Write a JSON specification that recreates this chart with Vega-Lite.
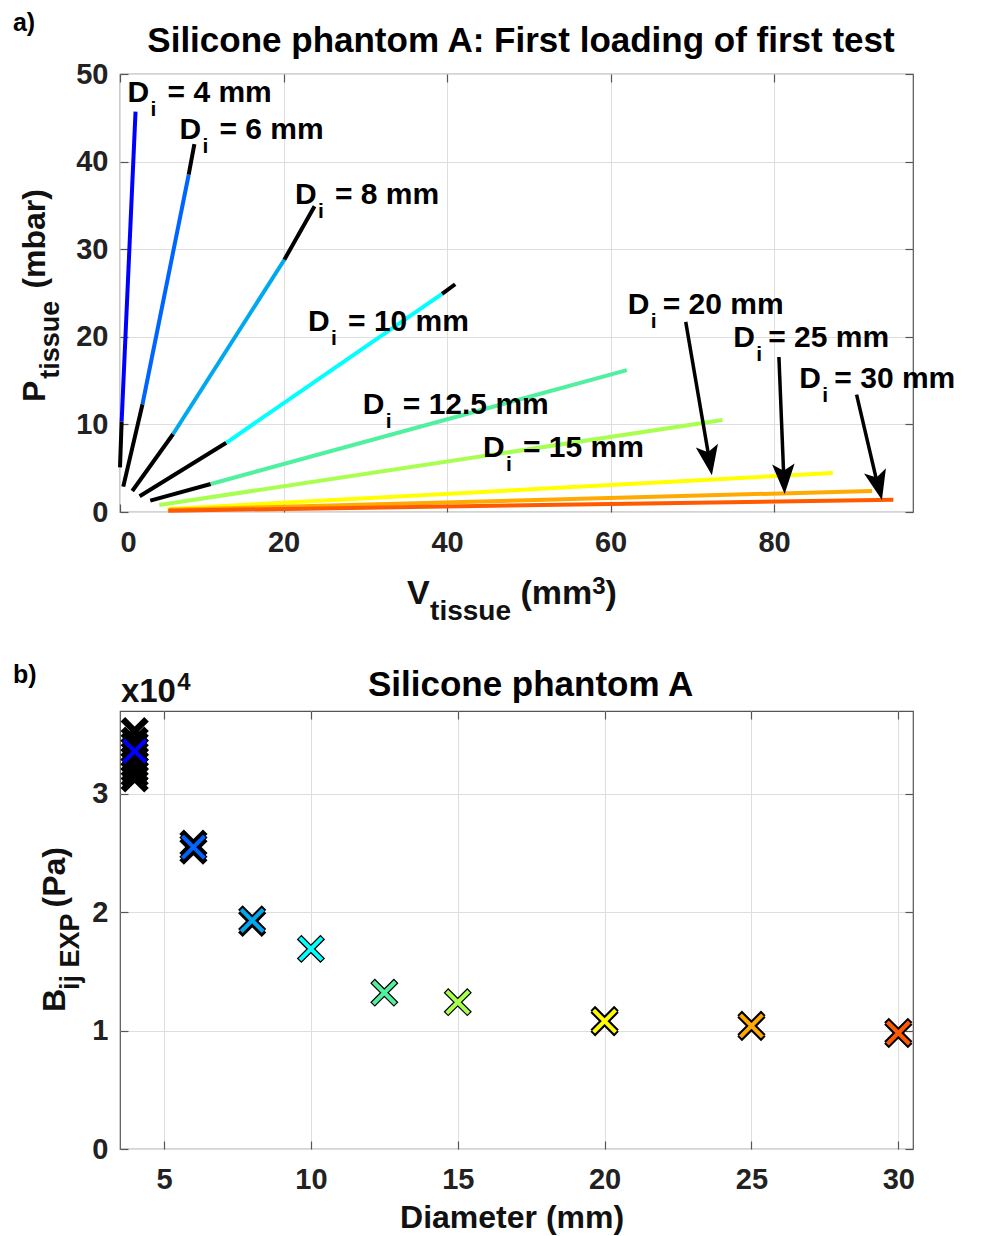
{
  "$schema": "https://vega.github.io/schema/vega-lite/v6.json",
  "background": "white",
  "padding": {"left": 12, "top": 10, "right": 5, "bottom": 2},
  "bounds": "flush",
  "spacing": 199,
  "config": {
    "view": {"stroke": "#555555", "strokeWidth": 1.2},
    "font": "Liberation Sans",
    "axis": {"labelFont": "Liberation Sans", "labelFontSize": 29, "labelFontWeight": "bold", "labelColor": "#222222", "domain": false, "gridColor": "#dedede", "gridWidth": 1, "tickColor": "#555555", "tickSize": -8, "tickWidth": 1.2, "labelPadding": 20},
    "text": {"font": "Liberation Sans", "fontWeight": "bold", "color": "#111111"}
  },
  "datasets": {
    "lines": [
      {"seg": "4a", "c": "k", "x": 0.0, "y": 5.1},
      {"seg": "4a", "c": "k", "x": 0.2, "y": 10.3},
      {"seg": "4b", "c": "4", "x": 0.2, "y": 10.3},
      {"seg": "4b", "c": "4", "x": 1.9, "y": 45.7},
      {"seg": "6a", "c": "k", "x": 0.4, "y": 2.9},
      {"seg": "6a", "c": "k", "x": 2.75, "y": 12.3},
      {"seg": "6b", "c": "6", "x": 2.75, "y": 12.3},
      {"seg": "6b", "c": "6", "x": 8.4, "y": 38.5},
      {"seg": "6c", "c": "k", "x": 8.4, "y": 38.5},
      {"seg": "6c", "c": "k", "x": 9.1, "y": 42.0},
      {"seg": "8a", "c": "k", "x": 1.5, "y": 2.4},
      {"seg": "8a", "c": "k", "x": 6.5, "y": 8.9},
      {"seg": "8b", "c": "8", "x": 6.5, "y": 8.9},
      {"seg": "8b", "c": "8", "x": 20.1, "y": 28.8},
      {"seg": "8c", "c": "k", "x": 20.1, "y": 28.8},
      {"seg": "8c", "c": "k", "x": 23.8, "y": 34.9},
      {"seg": "10a", "c": "k", "x": 2.4, "y": 1.8},
      {"seg": "10a", "c": "k", "x": 13.0, "y": 7.9},
      {"seg": "10b", "c": "10", "x": 13.0, "y": 7.9},
      {"seg": "10b", "c": "10", "x": 39.4, "y": 24.9},
      {"seg": "10c", "c": "k", "x": 39.4, "y": 24.9},
      {"seg": "10c", "c": "k", "x": 41.0, "y": 26.0},
      {"seg": "12a", "c": "k", "x": 3.7, "y": 1.3},
      {"seg": "12a", "c": "k", "x": 11.1, "y": 3.2},
      {"seg": "12b", "c": "12.5", "x": 11.1, "y": 3.2},
      {"seg": "12b", "c": "12.5", "x": 62.0, "y": 16.2},
      {"seg": "15", "c": "15", "x": 4.8, "y": 0.8},
      {"seg": "15", "c": "15", "x": 73.7, "y": 10.5},
      {"seg": "20", "c": "20", "x": 5.8, "y": 0.35},
      {"seg": "20", "c": "20", "x": 87.2, "y": 4.45},
      {"seg": "25", "c": "25", "x": 6.0, "y": 0.25},
      {"seg": "25", "c": "25", "x": 92.0, "y": 2.4},
      {"seg": "30", "c": "30", "x": 5.9, "y": 0.15},
      {"seg": "30", "c": "30", "x": 94.6, "y": 1.4}
    ],
    "labels": [
      {"n": "4", "x": 0.92, "y": 46.8, "t": "= 4 mm"},
      {"n": "6", "x": 7.27, "y": 42.6, "t": "= 6 mm"},
      {"n": "8", "x": 21.4, "y": 35.2, "t": "= 8 mm"},
      {"n": "10", "x": 23.0, "y": 20.7, "t": "= 10 mm"},
      {"n": "12.5", "x": 29.7, "y": 11.2, "t": "= 12.5 mm"},
      {"n": "15", "x": 44.4, "y": 6.3, "t": "= 15 mm"},
      {"n": "20", "x": 62.1, "y": 22.6, "t": "= 20 mm"},
      {"n": "25", "x": 75.0, "y": 18.8, "t": "= 25 mm"},
      {"n": "30", "x": 83.1, "y": 14.2, "t": "= 30 mm"}
    ],
    "arrows": [
      {"a": "20", "x": 69.2, "y": 21.7, "x2": 72.1, "y2": 5.9, "tx": 72.4, "ty": 4.2},
      {"a": "25", "x": 80.6, "y": 17.7, "x2": 81.2, "y2": 3.8, "tx": 81.3, "ty": 2.05},
      {"a": "30", "x": 90.1, "y": 13.4, "x2": 92.7, "y2": 3.0, "tx": 93.2, "ty": 1.37}
    ],
    "tests": [
      {"d": 4, "b": 31300}, {"d": 4, "b": 31700}, {"d": 4, "b": 32100}, {"d": 4, "b": 32500},
      {"d": 4, "b": 32900}, {"d": 4, "b": 33300}, {"d": 4, "b": 33700}, {"d": 4, "b": 34100},
      {"d": 4, "b": 34500}, {"d": 4, "b": 35300},
      {"d": 6, "b": 25200}, {"d": 6, "b": 25500}, {"d": 6, "b": 25800},
      {"d": 8, "b": 19100}, {"d": 8, "b": 19400},
      {"d": 10, "b": 16900},
      {"d": 12.5, "b": 13200},
      {"d": 15, "b": 12400},
      {"d": 20, "b": 10700}, {"d": 20, "b": 10900},
      {"d": 25, "b": 10300}, {"d": 25, "b": 10500},
      {"d": 30, "b": 9700}, {"d": 30, "b": 9900}
    ],
    "means": [
      {"d": 4, "b": 33600, "c": "4"},
      {"d": 6, "b": 25500, "c": "6"},
      {"d": 8, "b": 19300, "c": "8"},
      {"d": 10, "b": 16900, "c": "10"},
      {"d": 12.5, "b": 13200, "c": "12.5"},
      {"d": 15, "b": 12400, "c": "15"},
      {"d": 20, "b": 10800, "c": "20"},
      {"d": 25, "b": 10400, "c": "25"},
      {"d": 30, "b": 9800, "c": "30"}
    ]
  },
  "vconcat": [
    {
      "width": 793,
      "height": 438,
      "resolve": {"axis": {"x": "independent", "y": "independent"}},
      "layer": [
        {
          "data": {"name": "lines"},
          "mark": {"type": "line", "strokeWidth": 4, "strokeCap": "butt"},
          "encoding": {
            "x": {"field": "x", "type": "quantitative", "scale": {"domain": [0, 97], "nice": false, "zero": false}, "axis": {"values": [0, 20, 40, 60, 80], "grid": true, "labelPadding": 24, "title": null}},
            "y": {"field": "y", "type": "quantitative", "scale": {"domain": [0, 50], "nice": false}, "axis": {"values": [0, 10, 20, 30, 40, 50], "grid": true, "title": null}},
            "detail": {"field": "seg"},
            "color": {"field": "c", "type": "nominal", "legend": null,
              "scale": {"domain": ["k", "4", "6", "8", "10", "12.5", "15", "20", "25", "30"],
                        "range": ["#000000", "#0000ff", "#0064ff", "#00a8f0", "#00ffff", "#50f0a0", "#a8ff50", "#ffff00", "#ffaa00", "#ff5a00"]}}
          }
        },
        {
          "data": {"name": "arrows"},
          "mark": {"type": "rule", "strokeWidth": 3.5, "color": "#000000"},
          "encoding": {
            "x": {"field": "x", "type": "quantitative", "scale": {"domain": [0, 97], "nice": false, "zero": false}, "axis": {"orient": "top", "labels": false, "grid": false, "values": [0, 20, 40, 60, 80], "title": null}},
            "y": {"field": "y", "type": "quantitative", "scale": {"domain": [0, 50], "nice": false}, "axis": {"orient": "right", "labels": false, "grid": false, "values": [0, 10, 20, 30, 40, 50], "title": null}},
            "x2": {"field": "x2"},
            "y2": {"field": "y2"}
          }
        },
        {
          "data": {"name": "arrows"},
          "transform": [{"filter": "datum.a == '20'"}],
          "mark": {"type": "point", "shape": "M0,0L-0.75,-2L0,-1.55L0.75,-2Z", "filled": true, "size": 900, "color": "#000000", "opacity": 1, "angle": 350.4},
          "encoding": {
            "x": {"field": "tx", "type": "quantitative", "scale": {"domain": [0, 97], "nice": false, "zero": false}, "axis": null},
            "y": {"field": "ty", "type": "quantitative", "scale": {"domain": [0, 50], "nice": false}, "axis": null}
          }
        },
        {
          "data": {"name": "arrows"},
          "transform": [{"filter": "datum.a == '25'"}],
          "mark": {"type": "point", "shape": "M0,0L-0.75,-2L0,-1.55L0.75,-2Z", "filled": true, "size": 900, "color": "#000000", "opacity": 1, "angle": 357.5},
          "encoding": {
            "x": {"field": "tx", "type": "quantitative", "scale": {"domain": [0, 97], "nice": false, "zero": false}, "axis": null},
            "y": {"field": "ty", "type": "quantitative", "scale": {"domain": [0, 50], "nice": false}, "axis": null}
          }
        },
        {
          "data": {"name": "arrows"},
          "transform": [{"filter": "datum.a == '30'"}],
          "mark": {"type": "point", "shape": "M0,0L-0.75,-2L0,-1.55L0.75,-2Z", "filled": true, "size": 900, "color": "#000000", "opacity": 1, "angle": 346.6},
          "encoding": {
            "x": {"field": "tx", "type": "quantitative", "scale": {"domain": [0, 97], "nice": false, "zero": false}, "axis": null},
            "y": {"field": "ty", "type": "quantitative", "scale": {"domain": [0, 50], "nice": false}, "axis": null}
          }
        },
        {
          "data": {"name": "labels"},
          "mark": {"type": "text", "text": "D", "fontSize": 30, "align": "left", "baseline": "alphabetic", "color": "#000000"},
          "encoding": {
            "x": {"field": "x", "type": "quantitative", "scale": {"domain": [0, 97], "nice": false, "zero": false}, "axis": null},
            "y": {"field": "y", "type": "quantitative", "scale": {"domain": [0, 50], "nice": false}, "axis": null}
          }
        },
        {
          "data": {"name": "labels"},
          "mark": {"type": "text", "text": "i", "fontSize": 21, "align": "left", "baseline": "alphabetic", "dx": 23, "dy": 14, "color": "#000000"},
          "encoding": {
            "x": {"field": "x", "type": "quantitative", "scale": {"domain": [0, 97], "nice": false, "zero": false}, "axis": null},
            "y": {"field": "y", "type": "quantitative", "scale": {"domain": [0, 50], "nice": false}, "axis": null}
          }
        },
        {
          "data": {"name": "labels"},
          "transform": [{"filter": {"field": "n", "oneOf": ["4", "6", "8", "10", "12.5", "15"]}}],
          "mark": {"type": "text", "fontSize": 30, "align": "left", "baseline": "alphabetic", "dx": 40, "color": "#000000"},
          "encoding": {
            "x": {"field": "x", "type": "quantitative", "scale": {"domain": [0, 97], "nice": false, "zero": false}, "axis": null},
            "y": {"field": "y", "type": "quantitative", "scale": {"domain": [0, 50], "nice": false}, "axis": null},
            "text": {"field": "t"}
          }
        },
        {
          "data": {"name": "labels"},
          "transform": [{"filter": {"field": "n", "oneOf": ["20", "25", "30"]}}],
          "mark": {"type": "text", "fontSize": 30, "align": "left", "baseline": "alphabetic", "dx": 35, "color": "#000000"},
          "encoding": {
            "x": {"field": "x", "type": "quantitative", "scale": {"domain": [0, 97], "nice": false, "zero": false}, "axis": null},
            "y": {"field": "y", "type": "quantitative", "scale": {"domain": [0, 50], "nice": false}, "axis": null},
            "text": {"field": "t"}
          }
        },
        {
          "data": {"values": [{}]},
          "mark": {"type": "text", "text": "Silicone phantom A: First loading of first test", "fontSize": 35, "align": "center", "baseline": "alphabetic", "color": "#000000"},
          "encoding": {
            "x": {"datum": 49.05, "type": "quantitative", "scale": {"domain": [0, 97], "nice": false, "zero": false}, "axis": null},
            "y": {"datum": 52.5, "type": "quantitative", "scale": {"domain": [0, 50], "nice": false}, "axis": null}
          }
        },
        {
          "data": {"values": [{}]},
          "mark": {"type": "text", "text": "a)", "fontSize": 25, "align": "left", "baseline": "alphabetic", "color": "#000000"},
          "encoding": {
            "x": {"datum": -13.1, "type": "quantitative", "scale": {"domain": [0, 97], "nice": false, "zero": false}, "axis": null},
            "y": {"datum": 54.9, "type": "quantitative", "scale": {"domain": [0, 50], "nice": false}, "axis": null}
          }
        },
        {
          "data": {"values": [{}]},
          "mark": {"type": "text", "text": "V", "fontSize": 34, "align": "left", "baseline": "alphabetic"},
          "encoding": {
            "x": {"datum": 35.12, "type": "quantitative", "scale": {"domain": [0, 97], "nice": false, "zero": false}, "axis": null},
            "y": {"datum": -10.5, "type": "quantitative", "scale": {"domain": [0, 50], "nice": false}, "axis": null}
          }
        },
        {
          "data": {"values": [{}]},
          "mark": {"type": "text", "text": "tissue", "fontSize": 28, "align": "left", "baseline": "alphabetic"},
          "encoding": {
            "x": {"datum": 37.93, "type": "quantitative", "scale": {"domain": [0, 97], "nice": false, "zero": false}, "axis": null},
            "y": {"datum": -12.33, "type": "quantitative", "scale": {"domain": [0, 50], "nice": false}, "axis": null}
          }
        },
        {
          "data": {"values": [{}]},
          "mark": {"type": "text", "text": "(mm", "fontSize": 34, "align": "left", "baseline": "alphabetic"},
          "encoding": {
            "x": {"datum": 48.99, "type": "quantitative", "scale": {"domain": [0, 97], "nice": false, "zero": false}, "axis": null},
            "y": {"datum": -10.5, "type": "quantitative", "scale": {"domain": [0, 50], "nice": false}, "axis": null}
          }
        },
        {
          "data": {"values": [{}]},
          "mark": {"type": "text", "text": "3", "fontSize": 24, "align": "left", "baseline": "alphabetic"},
          "encoding": {
            "x": {"datum": 57.76, "type": "quantitative", "scale": {"domain": [0, 97], "nice": false, "zero": false}, "axis": null},
            "y": {"datum": -9.36, "type": "quantitative", "scale": {"domain": [0, 50], "nice": false}, "axis": null}
          }
        },
        {
          "data": {"values": [{}]},
          "mark": {"type": "text", "text": ")", "fontSize": 34, "align": "left", "baseline": "alphabetic"},
          "encoding": {
            "x": {"datum": 59.39, "type": "quantitative", "scale": {"domain": [0, 97], "nice": false, "zero": false}, "axis": null},
            "y": {"datum": -10.5, "type": "quantitative", "scale": {"domain": [0, 50], "nice": false}, "axis": null}
          }
        },
        {
          "data": {"values": [{}]},
          "mark": {"type": "text", "text": "P", "fontSize": 32, "align": "left", "baseline": "alphabetic", "angle": 270},
          "encoding": {
            "x": {"datum": -9.22, "type": "quantitative", "scale": {"domain": [0, 97], "nice": false, "zero": false}, "axis": null},
            "y": {"datum": 12.56, "type": "quantitative", "scale": {"domain": [0, 50], "nice": false}, "axis": null}
          }
        },
        {
          "data": {"values": [{}]},
          "mark": {"type": "text", "text": "tissue", "fontSize": 27, "align": "left", "baseline": "alphabetic", "angle": 270},
          "encoding": {
            "x": {"datum": -7.51, "type": "quantitative", "scale": {"domain": [0, 97], "nice": false, "zero": false}, "axis": null},
            "y": {"datum": 15.2, "type": "quantitative", "scale": {"domain": [0, 50], "nice": false}, "axis": null}
          }
        },
        {
          "data": {"values": [{}]},
          "mark": {"type": "text", "text": "(mbar)", "fontSize": 32, "align": "left", "baseline": "alphabetic", "angle": 270},
          "encoding": {
            "x": {"datum": -9.22, "type": "quantitative", "scale": {"domain": [0, 97], "nice": false, "zero": false}, "axis": null},
            "y": {"datum": 25.5, "type": "quantitative", "scale": {"domain": [0, 50], "nice": false}, "axis": null}
          }
        }
      ]
    },
    {
      "width": 793,
      "height": 438,
      "resolve": {"axis": {"x": "independent", "y": "independent"}},
      "layer": [
        {
          "data": {"name": "tests"},
          "mark": {"type": "point", "shape": "M-1,-1L1,1M-1,1L1,-1", "filled": false, "size": 560, "strokeWidth": 6.5, "color": "#000000", "opacity": 1},
          "encoding": {
            "x": {"field": "d", "type": "quantitative", "scale": {"domain": [3.5, 30.5], "nice": false, "zero": false}, "axis": {"values": [5, 10, 15, 20, 25, 30], "grid": true, "labelPadding": 24, "title": null}},
            "y": {"field": "b", "type": "quantitative", "scale": {"domain": [0, 37000], "nice": false}, "axis": {"values": [0, 10000, 20000, 30000], "grid": true, "labelExpr": "format(datum.value / 10000, 'd')", "title": null}}
          }
        },
        {
          "data": {"name": "means"},
          "mark": {"type": "point", "shape": "M-1,-1L1,1M-1,1L1,-1", "filled": false, "size": 484, "strokeWidth": 4, "opacity": 1},
          "encoding": {
            "x": {"field": "d", "type": "quantitative", "scale": {"domain": [3.5, 30.5], "nice": false, "zero": false}, "axis": {"orient": "top", "labels": false, "grid": false, "values": [5, 10, 15, 20, 25, 30], "title": null}},
            "y": {"field": "b", "type": "quantitative", "scale": {"domain": [0, 37000], "nice": false}, "axis": {"orient": "right", "labels": false, "grid": false, "values": [0, 10000, 20000, 30000], "title": null}},
            "color": {"field": "c", "type": "nominal", "legend": null,
              "scale": {"domain": ["4", "6", "8", "10", "12.5", "15", "20", "25", "30"],
                        "range": ["#0000ff", "#0064ff", "#00a8f0", "#00ffff", "#50f0a0", "#a8ff50", "#ffff00", "#ffaa00", "#ff5a00"]}}
          }
        },
        {
          "data": {"values": [{}]},
          "mark": {"type": "text", "text": "Silicone phantom A", "fontSize": 35, "align": "center", "baseline": "alphabetic", "color": "#000000"},
          "encoding": {
            "x": {"datum": 17.48, "type": "quantitative", "scale": {"domain": [3.5, 30.5], "nice": false, "zero": false}, "axis": null},
            "y": {"datum": 38260, "type": "quantitative", "scale": {"domain": [0, 37000], "nice": false}, "axis": null}
          }
        },
        {
          "data": {"values": [{}]},
          "mark": {"type": "text", "text": "b)", "fontSize": 25, "align": "left", "baseline": "alphabetic", "color": "#000000"},
          "encoding": {
            "x": {"datum": -0.14, "type": "quantitative", "scale": {"domain": [3.5, 30.5], "nice": false, "zero": false}, "axis": null},
            "y": {"datum": 39400, "type": "quantitative", "scale": {"domain": [0, 37000], "nice": false}, "axis": null}
          }
        },
        {
          "data": {"values": [{}]},
          "mark": {"type": "text", "text": "x10", "fontSize": 33, "align": "left", "baseline": "alphabetic"},
          "encoding": {
            "x": {"datum": 3.53, "type": "quantitative", "scale": {"domain": [3.5, 30.5], "nice": false, "zero": false}, "axis": null},
            "y": {"datum": 37750, "type": "quantitative", "scale": {"domain": [0, 37000], "nice": false}, "axis": null}
          }
        },
        {
          "data": {"values": [{}]},
          "mark": {"type": "text", "text": "4", "fontSize": 24, "align": "left", "baseline": "alphabetic"},
          "encoding": {
            "x": {"datum": 5.45, "type": "quantitative", "scale": {"domain": [3.5, 30.5], "nice": false, "zero": false}, "axis": null},
            "y": {"datum": 38770, "type": "quantitative", "scale": {"domain": [0, 37000], "nice": false}, "axis": null}
          }
        },
        {
          "data": {"values": [{}]},
          "mark": {"type": "text", "text": "B", "fontSize": 32, "align": "left", "baseline": "alphabetic", "angle": 270},
          "encoding": {
            "x": {"datum": 1.627, "type": "quantitative", "scale": {"domain": [3.5, 30.5], "nice": false, "zero": false}, "axis": null},
            "y": {"datum": 11570, "type": "quantitative", "scale": {"domain": [0, 37000], "nice": false}, "axis": null}
          }
        },
        {
          "data": {"values": [{}]},
          "mark": {"type": "text", "text": "ij EXP", "fontSize": 27, "align": "left", "baseline": "alphabetic", "angle": 270},
          "encoding": {
            "x": {"datum": 2.104, "type": "quantitative", "scale": {"domain": [3.5, 30.5], "nice": false, "zero": false}, "axis": null},
            "y": {"datum": 13430, "type": "quantitative", "scale": {"domain": [0, 37000], "nice": false}, "axis": null}
          }
        },
        {
          "data": {"values": [{}]},
          "mark": {"type": "text", "text": "(Pa)", "fontSize": 32, "align": "left", "baseline": "alphabetic", "angle": 270},
          "encoding": {
            "x": {"datum": 1.627, "type": "quantitative", "scale": {"domain": [3.5, 30.5], "nice": false, "zero": false}, "axis": null},
            "y": {"datum": 20400, "type": "quantitative", "scale": {"domain": [0, 37000], "nice": false}, "axis": null}
          }
        },
        {
          "data": {"values": [{}]},
          "mark": {"type": "text", "text": "Diameter (mm)", "fontSize": 32, "align": "center", "baseline": "alphabetic"},
          "encoding": {
            "x": {"datum": 16.85, "type": "quantitative", "scale": {"domain": [3.5, 30.5], "nice": false, "zero": false}, "axis": null},
            "y": {"datum": -6670, "type": "quantitative", "scale": {"domain": [0, 37000], "nice": false}, "axis": null}
          }
        }
      ]
    }
  ]
}
